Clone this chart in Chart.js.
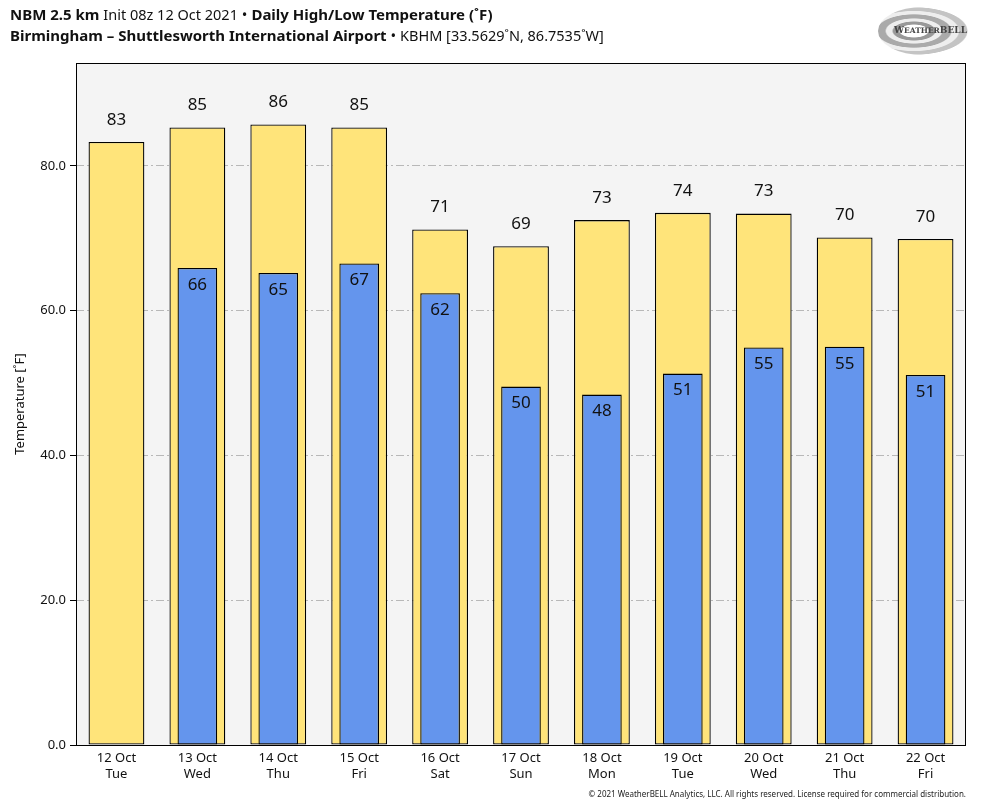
<!DOCTYPE html>
<html lang="en">
<head>
    <meta charset="UTF-8" />
    <title>NBM Daily High/Low Temperature</title>
    <script src="https://cdn.jsdelivr.net/npm/chart.js"></script>
    <style>
        * { box-sizing: border-box; margin: 0; padding: 0; }
        body {
            width: 984px;
            height: 808px;
            background: #fff;
            font-family: "Noto Sans", "Open Sans", sans-serif;
            color: #111;
            position: relative;
            overflow: hidden;
        }
        #wrap { position: absolute; left: 0; top: 0; width: 984px; height: 808px; }
        .title { position: absolute; left: 10px; font-size: 15px; white-space: nowrap; }
        .title b { font-weight: 700; }
        .t1 { top: 4px; }
        .t2 { top: 25px; }
        .light { font-weight: 400; font-size: 14.5px; }
        #logo {
            position: absolute; left: 878px; top: 7px; width: 90px; height: 48px;
            border-radius: 50%;
            background: radial-gradient(ellipse at 40% 50%, #fff 0 18%, #999 20% 27%, #eee 29% 36%, #aaa 38% 48%, #eee 50% 58%, #c4c4c4 60% 69%, transparent 71%);
        }
        #logo span {
            position: absolute; left: 16px; top: 18px; font-family: "DejaVu Serif", serif;
            font-size: 9px; font-weight: 700; color: #444;
        }
        #foot {
            position: absolute; right: 18px; top: 788px; font-size: 8px; color: #222;
        }
    </style>
</head>
<body>
<div id="wrap"><canvas id="chart" width="984" height="808"></canvas></div>
<div class="title t1"><b>NBM 2.5 km</b> <span class="light">Init 08z 12 Oct 2021</span> &bull; <b>Daily High/Low Temperature (˚F)</b></div>
<div class="title t2"><b>Birmingham – Shuttlesworth International Airport</b> &bull; <span class="light">KBHM [33.5629˚N, 86.7535˚W]</span></div>
<div id="logo"><span>W<small>EATHER</small>BELL</span></div>
<div id="foot">© 2021 WeatherBELL Analytics, LLC. All rights reserved. License required for commercial distribution.</div>

<script>
    const days = [
        ['12 Oct', 'Tue'], ['13 Oct', 'Wed'], ['14 Oct', 'Thu'], ['15 Oct', 'Fri'],
        ['16 Oct', 'Sat'], ['17 Oct', 'Sun'], ['18 Oct', 'Mon'], ['19 Oct', 'Tue'],
        ['20 Oct', 'Wed'], ['21 Oct', 'Thu'], ['22 Oct', 'Fri']
    ];
    const highs = [83.3, 85.3, 85.7, 85.3, 71.2, 68.9, 72.5, 73.5, 73.4, 70.1, 69.9];
    const lows = [null, 65.9, 65.2, 66.5, 62.4, 49.5, 48.4, 51.3, 54.9, 55.0, 51.1];
    const yTicks = [0, 20, 40, 60, 80];

    // plot-area background + frame
    const frame = {
        id: 'frame',
        beforeDraw(chart) {
            const a = chart.chartArea, c = chart.ctx;
            c.save();
            c.fillStyle = '#f4f4f4';
            c.fillRect(a.left, a.top, a.right - a.left, a.bottom - a.top);
            c.restore();
        },
        afterDraw(chart) {
            const a = chart.chartArea, c = chart.ctx;
            c.save();
            c.strokeStyle = '#000';
            c.lineWidth = 1;
            c.strokeRect(a.left + 0.5, a.top + 0.5, a.right - a.left - 1, a.bottom - a.top);
            c.restore();
        }
    };

    // value labels: highs above the bar, lows inside the top
    const valueLabels = {
        id: 'valueLabels',
        afterDatasetsDraw(chart) {
            const c = chart.ctx;
            c.save();
            c.fillStyle = '#111';
            c.font = '17px "Noto Sans", sans-serif';
            c.textAlign = 'center';
            c.textBaseline = 'middle';
            chart.data.datasets.forEach((ds, i) => {
                chart.getDatasetMeta(i).data.forEach((bar, j) => {
                    const v = ds.data[j];
                    if (v == null) return;
                    const y = ds.label === 'High' ? bar.y - 22 : bar.y + 17;
                    c.fillText(Math.round(v), bar.x, y);
                });
            });
            c.restore();
        }
    };

    new Chart(document.getElementById('chart'), {
        type: 'bar',
        data: {
            labels: days,
            datasets: [
                {
                    label: 'Low',
                    data: lows,
                    backgroundColor: '#6495ed',
                    borderColor: '#000',
                    borderWidth: 1.3,
                    borderSkipped: false,
                    barPercentage: 0.49,
                    categoryPercentage: 1,
                    grouped: false,
                    order: 0
                },
                {
                    label: 'High',
                    data: highs,
                    backgroundColor: '#ffe47a',
                    borderColor: '#000',
                    borderWidth: 1.3,
                    borderSkipped: false,
                    barPercentage: 0.69,
                    categoryPercentage: 1,
                    grouped: false,
                    order: 1
                }
            ]
        },
        options: {
            responsive: false,
            animation: false,
            devicePixelRatio: 1,
            layout: { padding: { top: 63, right: 18, left: 0, bottom: 0 } },
            plugins: { legend: { display: false }, tooltip: { enabled: false } },
            scales: {
                x: {
                    grid: { display: false, drawTicks: false },
                    border: { display: false },
                    ticks: { color: '#111', font: { size: 13, family: '"Noto Sans", sans-serif', lineHeight: 1.25 }, padding: 5, maxRotation: 0 },
                    afterFit(s) { s.height = 63; }
                },
                y: {
                    min: 0,
                    max: 94.2,
                    afterBuildTicks(s) { s.ticks = yTicks.map(v => ({ value: v })); },
                    grid: {
                        color: ctx => (ctx.tick && ctx.tick.value === 0) ? 'rgba(0,0,0,0)' : '#b8b8b8',
                        tickBorderDash: [],
                        tickColor: '#000',
                        tickLength: 6,
                        lineWidth: 1
                    },
                    border: { display: false, dash: [8, 3, 2, 3] },
                    ticks: {
                        color: '#111',
                        font: { size: 13, family: '"Noto Sans", sans-serif' },
                        padding: 4,
                        callback: v => v.toFixed(1)
                    },
                    title: {
                        display: true,
                        text: 'Temperature [˚F]',
                        color: '#111',
                        font: { size: 13, family: '"Noto Sans", sans-serif' },
                        padding: { top: 12, bottom: 0 }
                    },
                    afterFit(s) { s.width = 76; }
                }
            }
        },
        plugins: [frame, valueLabels]
    });
</script>
</body>
</html>
